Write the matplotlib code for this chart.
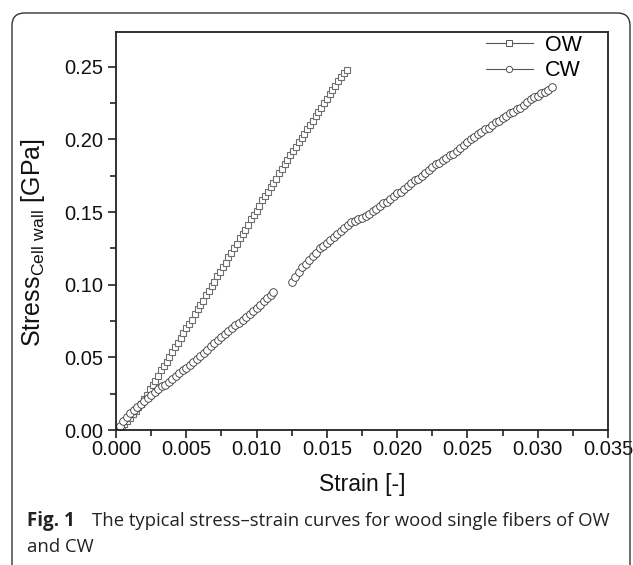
import matplotlib.pyplot as plt
from matplotlib.patches import FancyBboxPatch
from matplotlib.lines import Line2D
from matplotlib.ticker import MultipleLocator

# OW stress-strain
ow_strain = [0.0000, 0.0002, 0.0004, 0.0006, 0.0008, 0.0010, 0.0012, 0.0014, 0.0016, 0.0018,
             0.0020, 0.0022, 0.0024, 0.0026, 0.0028, 0.0030, 0.0032, 0.0034, 0.0036, 0.0038,
             0.0040, 0.0042, 0.0044, 0.0046, 0.0048, 0.0050, 0.0052, 0.0054, 0.0056, 0.0058,
             0.0060, 0.0062, 0.0064, 0.0066, 0.0068, 0.0070, 0.0072, 0.0074, 0.0076, 0.0078,
             0.0080, 0.0082, 0.0084, 0.0086, 0.0088, 0.0090, 0.0092, 0.0094, 0.0096, 0.0098,
             0.0100, 0.0102, 0.0104, 0.0106, 0.0108, 0.0110, 0.0112, 0.0114, 0.0116, 0.0118,
             0.0120, 0.0122, 0.0124, 0.0126, 0.0128, 0.0130, 0.0132, 0.0134, 0.0136, 0.0138,
             0.0140, 0.0142, 0.0144, 0.0146, 0.0148, 0.0150, 0.0152, 0.0154, 0.0156, 0.0158,
             0.0160, 0.0162, 0.0164]
ow_stress = [0.000, 0.001, 0.003, 0.004, 0.006, 0.008, 0.011, 0.013, 0.016, 0.018,
             0.021, 0.024, 0.028, 0.031, 0.034, 0.037, 0.041, 0.044, 0.047, 0.050,
             0.054, 0.057, 0.060, 0.063, 0.067, 0.070, 0.073, 0.076, 0.080, 0.083,
             0.086, 0.089, 0.093, 0.096, 0.099, 0.102, 0.106, 0.109, 0.112, 0.115,
             0.119, 0.122, 0.125, 0.128, 0.132, 0.135, 0.138, 0.141, 0.145, 0.148,
             0.151, 0.154, 0.158, 0.161, 0.164, 0.167, 0.170, 0.173, 0.177, 0.180,
             0.183, 0.186, 0.189, 0.192, 0.195, 0.198, 0.201, 0.204, 0.207, 0.210,
             0.213, 0.216, 0.219, 0.222, 0.225, 0.228, 0.231, 0.234, 0.237, 0.240,
             0.243, 0.246, 0.248]

# CW stress-strain, note the gap near 0.012
cw_strain = [0.00000, 0.00025, 0.00050, 0.00075, 0.00100, 0.00125, 0.00150, 0.00175, 0.00200, 0.00225,
             0.00250, 0.00275, 0.00300, 0.00325, 0.00350, 0.00375, 0.00400, 0.00425, 0.00450, 0.00475,
             0.00500, 0.00525, 0.00550, 0.00575, 0.00600, 0.00625, 0.00650, 0.00675, 0.00700, 0.00725,
             0.00750, 0.00775, 0.00800, 0.00825, 0.00850, 0.00875, 0.00900, 0.00925, 0.00950, 0.00975,
             0.01000, 0.01025, 0.01050, 0.01075, 0.01100, 0.01120,
             0.01250, 0.01275, 0.01300, 0.01325, 0.01350, 0.01375, 0.01400, 0.01425, 0.01450, 0.01475,
             0.01500, 0.01525, 0.01550, 0.01575, 0.01600, 0.01625, 0.01650, 0.01675, 0.01700, 0.01725,
             0.01750, 0.01775, 0.01800, 0.01825, 0.01850, 0.01875, 0.01900, 0.01925, 0.01950, 0.01975,
             0.02000, 0.02025, 0.02050, 0.02075, 0.02100, 0.02125, 0.02150, 0.02175, 0.02200, 0.02225,
             0.02250, 0.02275, 0.02300, 0.02325, 0.02350, 0.02375, 0.02400, 0.02425, 0.02450, 0.02475,
             0.02500, 0.02525, 0.02550, 0.02575, 0.02600, 0.02625, 0.02650, 0.02675, 0.02700, 0.02725,
             0.02750, 0.02775, 0.02800, 0.02825, 0.02850, 0.02875, 0.02900, 0.02925, 0.02950, 0.02975,
             0.03000, 0.03025, 0.03050, 0.03075, 0.03100]
cw_stress = [0.000, 0.003, 0.006, 0.009, 0.012, 0.014, 0.016, 0.018, 0.020, 0.022,
             0.024, 0.026, 0.028, 0.030, 0.031, 0.033, 0.035, 0.037, 0.039, 0.041,
             0.043, 0.045, 0.047, 0.049, 0.051, 0.053, 0.055, 0.058, 0.060, 0.062,
             0.064, 0.066, 0.068, 0.070, 0.072, 0.074, 0.076, 0.078, 0.080, 0.082,
             0.084, 0.086, 0.089, 0.091, 0.093, 0.095,
             0.102, 0.105, 0.109, 0.112, 0.114, 0.117, 0.120, 0.122, 0.125, 0.127,
             0.129, 0.131, 0.133, 0.135, 0.137, 0.139, 0.141, 0.143, 0.144, 0.145,
             0.146, 0.147, 0.149, 0.151, 0.152, 0.154, 0.156, 0.157, 0.159, 0.161,
             0.163, 0.164, 0.166, 0.168, 0.170, 0.172, 0.173, 0.175, 0.177, 0.179,
             0.181, 0.183, 0.184, 0.186, 0.187, 0.189, 0.190, 0.192, 0.194, 0.196,
             0.198, 0.200, 0.202, 0.204, 0.205, 0.207, 0.208, 0.210, 0.212, 0.213,
             0.215, 0.216, 0.218, 0.219, 0.221, 0.222, 0.224, 0.226, 0.228, 0.229,
             0.230, 0.232, 0.233, 0.234, 0.236]

labels = ['OW', 'CW']
caption_bold = 'Fig. 1'
caption_text = 'The typical stress\u2013strain curves for wood single fibers of OW'
caption_line2 = 'and CW'

plt.rcParams['font.family'] = ['Liberation Sans', 'DejaVu Sans']

fig = plt.figure(figsize=(6.33, 5.65), dpi=100)

# rounded frame around the whole figure (open at the bottom)
frame = FancyBboxPatch((12 / 633, -0.05), 618 / 633, 1.0 + 0.05 - 13 / 565,
                       boxstyle='round,pad=0,rounding_size=0.02',
                       transform=fig.transFigure, fill=False,
                       edgecolor='#333333', linewidth=1.0, mutation_aspect=633 / 565)
fig.patches.append(frame)

ax = fig.add_axes([116 / 633, 1 - 430 / 565, 492 / 633, 398 / 565])

ax.plot(ow_strain, ow_stress, linestyle='none', marker='s', markersize=5,
        markerfacecolor='white', markeredgecolor='#6e6e6e', markeredgewidth=0.8)
ax.plot(cw_strain, cw_stress, linestyle='none', marker='o', markersize=5.5,
        markerfacecolor='white', markeredgecolor='#333333', markeredgewidth=0.6)

ax.set_xlim(0, 0.035)
ax.set_ylim(0, 0.274)
ax.xaxis.set_major_locator(MultipleLocator(0.005))
ax.xaxis.set_minor_locator(MultipleLocator(0.0025))
ax.yaxis.set_major_locator(MultipleLocator(0.05))
ax.yaxis.set_minor_locator(MultipleLocator(0.025))
ax.xaxis.set_major_formatter(lambda v, p: '%.3f' % v)
ax.yaxis.set_major_formatter(lambda v, p: '%.2f' % v)
ax.tick_params(which='both', direction='out', top=False, right=False,
               labelsize=14.5, width=1.2, color='#222222', labelcolor='#111111')
ax.tick_params(which='major', length=6, pad=3)
ax.tick_params(axis='x', which='major', pad=1.5)
ax.tick_params(which='minor', length=4)
for sp in ax.spines.values():
    sp.set_linewidth(1.3)
    sp.set_color('#222222')

ax.set_xlabel('Strain [-]', fontsize=16.5, labelpad=10, color='#111111')
ax.set_ylabel(r'Stress$_{\mathregular{Cell\ wall}}$ [GPa]', fontsize=18, color='#111111')
ax.yaxis.set_label_coords(-0.14, 0.47)

handles = [Line2D([], [], color='#555555', linewidth=0.8, marker='s', markersize=4.5,
                  markerfacecolor='white', markeredgecolor='#555555', markeredgewidth=0.7),
           Line2D([], [], color='#555555', linewidth=0.8, marker='o', markersize=4.5,
                  markerfacecolor='white', markeredgecolor='#555555', markeredgewidth=0.7)]
ax.legend(handles, labels, loc='upper right', frameon=False, fontsize=15.5,
          handlelength=2.2, handletextpad=0.55, labelspacing=0.2,
          borderaxespad=0.2, bbox_to_anchor=(0.973, 1.025))

fig.text(27 / 633, 1 - 521 / 565, caption_bold, fontsize=13.5, va='center',
         fontweight='bold', color='#222222', family='Open Sans')
fig.text(92 / 633, 1 - 521 / 565, caption_text,
         fontsize=13.3, va='center', color='#222222', family='Open Sans')
fig.text(27 / 633, 1 - 547 / 565, caption_line2, fontsize=13.3, va='center',
         color='#222222', family='Open Sans')

fig.savefig('out.png', dpi=100)
